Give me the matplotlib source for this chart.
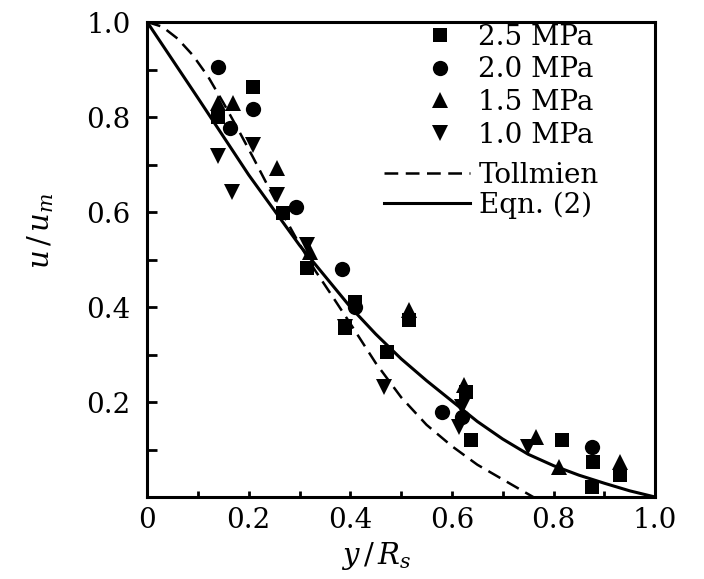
import matplotlib
matplotlib.use("Agg")
import matplotlib.pyplot as plt
from matplotlib.lines import Line2D
from matplotlib.ticker import MultipleLocator

sq_x = [0.208, 0.140, 0.267, 0.314, 0.390, 0.410, 0.473, 0.515, 0.627, 0.637, 0.816, 0.878, 0.875, 0.930]
sq_y = [0.863, 0.800, 0.598, 0.482, 0.356, 0.410, 0.305, 0.373, 0.221, 0.120, 0.120, 0.074, 0.021, 0.046]

ci_x = [0.139, 0.208, 0.163, 0.294, 0.384, 0.410, 0.580, 0.620, 0.875]
ci_y = [0.905, 0.817, 0.777, 0.610, 0.480, 0.400, 0.179, 0.168, 0.105]

up_x = [0.139, 0.169, 0.255, 0.320, 0.515, 0.624, 0.765, 0.810, 0.930]
up_y = [0.829, 0.829, 0.693, 0.516, 0.394, 0.236, 0.126, 0.063, 0.074]

dn_x = [0.139, 0.208, 0.167, 0.255, 0.314, 0.390, 0.467, 0.614, 0.750, 0.620]
dn_y = [0.718, 0.741, 0.642, 0.636, 0.531, 0.358, 0.232, 0.147, 0.105, 0.190]

# theory curves, points
toll_x = [0.0, 0.03, 0.06, 0.09, 0.12, 0.15, 0.18, 0.21, 0.24, 0.27, 0.30, 0.33,
          0.36, 0.40, 0.45, 0.50, 0.55, 0.60, 0.65, 0.70, 0.76]
toll_y = [1.0, 0.99, 0.965, 0.93, 0.885, 0.83, 0.772, 0.712, 0.65, 0.59, 0.532, 0.478,
          0.43, 0.365, 0.282, 0.21, 0.152, 0.107, 0.068, 0.037, 0.0]

eqn_x = [0.0, 0.1, 0.2, 0.3, 0.4, 0.45, 0.5, 0.55, 0.6, 0.65, 0.7, 0.75, 0.8,
         0.85, 0.9, 0.95, 1.0]
eqn_y = [1.0, 0.84, 0.678, 0.53, 0.40, 0.343, 0.291, 0.245, 0.202, 0.159, 0.122,
         0.09, 0.066, 0.046, 0.029, 0.013, 0.0]

labels = ["2.5 MPa", "2.0 MPa", "1.5 MPa", "1.0 MPa"]

plt.rcParams["font.family"] = "DejaVu Serif"
plt.rcParams["mathtext.fontset"] = "dejavuserif"

fig = plt.figure(figsize=(7.04, 5.79), dpi=100)
ax = fig.add_axes([0.209, 0.1416, 0.7216, 0.8204])

ms = dict(linestyle="none", color="black", markeredgewidth=0)
ax.plot(sq_x, sq_y, marker="s", markersize=10, **ms)
ax.plot(ci_x, ci_y, marker="o", markersize=11, **ms)
ax.plot(up_x, up_y, marker="^", markersize=11, **ms)
ax.plot(dn_x, dn_y, marker="v", markersize=11, **ms)

dash = (0, (5.5, 3))
ax.plot(toll_x, toll_y, color="black", linestyle=dash, linewidth=1.8)
ax.plot(eqn_x, eqn_y, color="black", linestyle="-", linewidth=2.2)

ax.set_xlim(0, 1.0)
ax.set_ylim(0, 1.0)

ax.xaxis.set_minor_locator(MultipleLocator(0.1))
ax.yaxis.set_minor_locator(MultipleLocator(0.1))
ax.set_xticks([0, 0.2, 0.4, 0.6, 0.8, 1.0])
ax.set_xticklabels(["0", "0.2", "0.4", "0.6", "0.8", "1.0"])
ax.set_yticks([0.2, 0.4, 0.6, 0.8, 1.0])
ax.set_yticklabels(["0.2", "0.4", "0.6", "0.8", "1.0"])

ax.tick_params(axis="x", which="both", direction="in", length=4, width=2,
               labelsize=20, pad=7)
ax.tick_params(axis="y", which="both", direction="in", length=7, width=2,
               labelsize=20, pad=12)
for sp in ax.spines.values():
    sp.set_linewidth(2.2)

ax.set_xlabel(r"$y\,/\,R_s$", fontsize=21)
ax.set_ylabel(r"$u\,/\,u_m$", fontsize=21)
ax.xaxis.set_label_coords(0.45, -0.09)
ax.yaxis.set_label_coords(-0.18, 0.56)

# legend: markers block and lines block
mk_handles = [
    Line2D([], [], marker="s", markersize=10, **ms),
    Line2D([], [], marker="o", markersize=11, **ms),
    Line2D([], [], marker="^", markersize=11, **ms),
    Line2D([], [], marker="v", markersize=11, **ms),
]
leg1 = ax.legend(mk_handles, labels, loc="upper left", bbox_to_anchor=(0.541, 0.996),
                 frameon=False, fontsize=20, handlelength=1.3, handletextpad=0.7,
                 labelspacing=0.2, borderpad=0, borderaxespad=0)
ax.add_artist(leg1)

ln_handles = [
    Line2D([], [], color="black", linestyle=dash, linewidth=1.8),
    Line2D([], [], color="black", linestyle="-", linewidth=2.2),
]
ax.legend(ln_handles, ["Tollmien", "Eqn. (2)"], loc="upper left",
          bbox_to_anchor=(0.467, 0.706), frameon=False, fontsize=20,
          handlelength=3.1, handletextpad=0.3, labelspacing=0.1,
          borderpad=0, borderaxespad=0)

fig.savefig("out.png", dpi=100)
plt.close(fig)
